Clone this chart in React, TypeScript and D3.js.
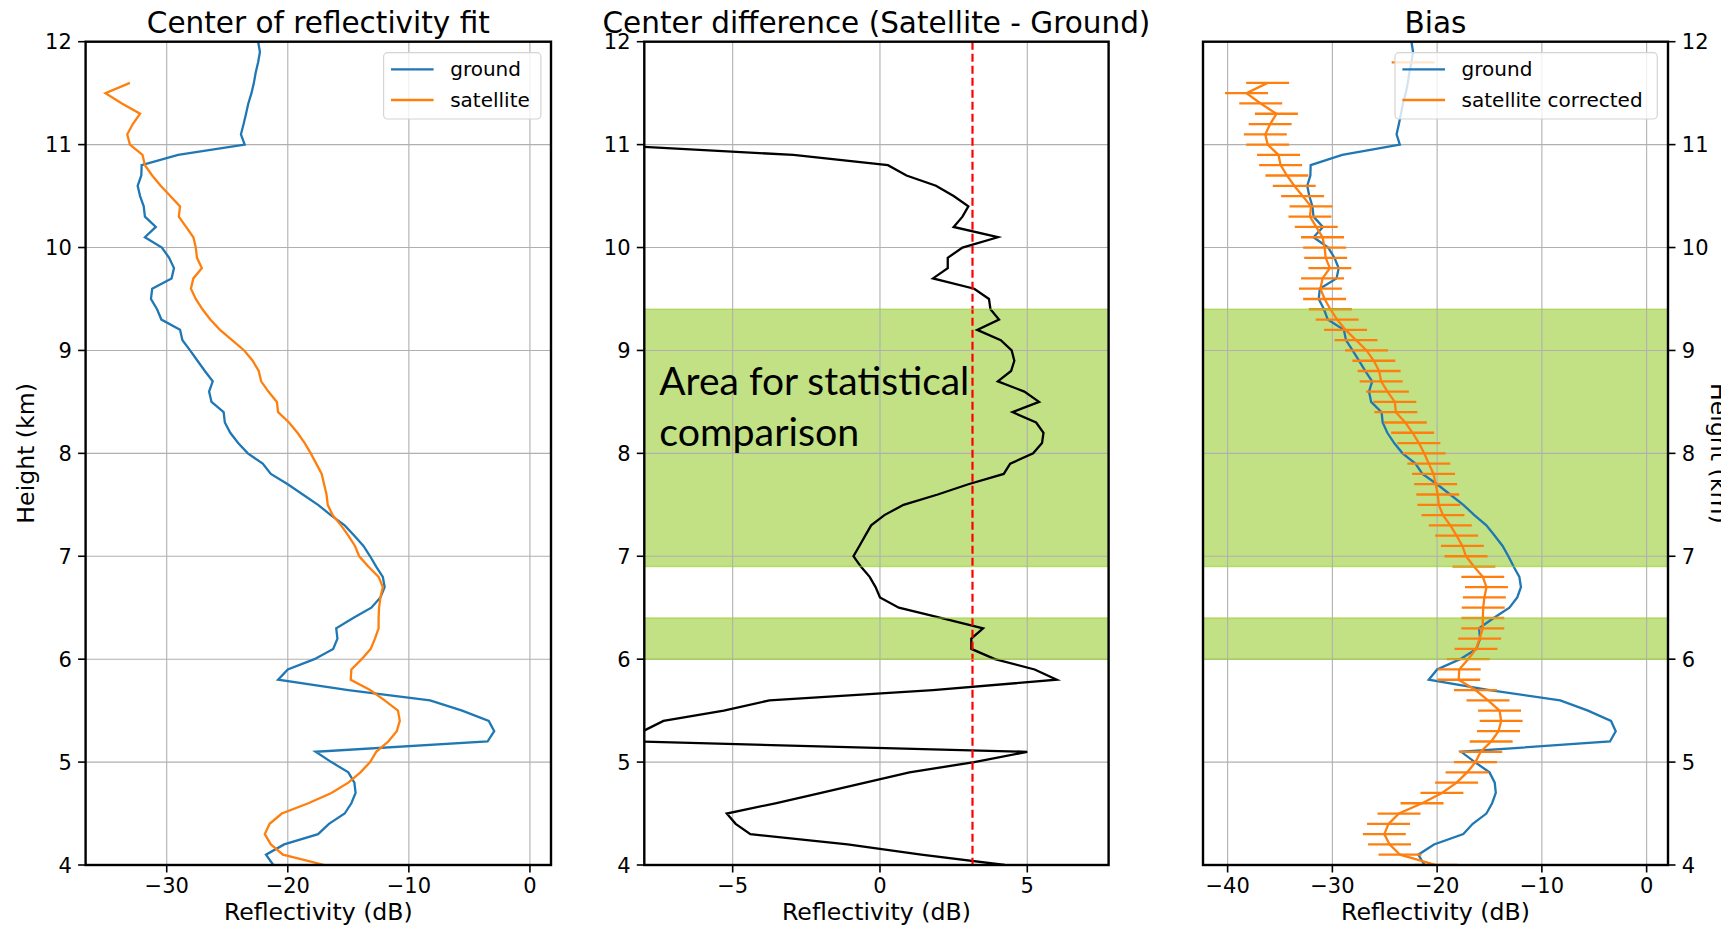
import React, { useRef, useEffect } from 'react';
import * as d3 from 'd3';

// altitude levels (km), bottom to top
const heights = [
  4.0, 4.1, 4.2, 4.3, 4.4, 4.5, 4.6, 4.7, 4.8, 4.9,
  5.0, 5.1, 5.2, 5.3, 5.4, 5.5, 5.6, 5.7, 5.8, 5.9,
  6.0, 6.1, 6.2, 6.3, 6.4, 6.5, 6.6, 6.7, 6.8, 6.9,
  7.0, 7.1, 7.2, 7.3, 7.4, 7.5, 7.6, 7.7, 7.8, 7.9,
  8.0, 8.1, 8.2, 8.3, 8.4, 8.5, 8.6, 8.7, 8.8, 8.9,
  9.0, 9.1, 9.2, 9.3, 9.4, 9.5, 9.6, 9.7, 9.8, 9.9,
  10.0, 10.1, 10.2, 10.3, 10.4, 10.5, 10.6, 10.7, 10.8, 10.9,
  11.0, 11.1, 11.2, 11.3, 11.4, 11.5, 11.6, 11.7, 11.8, 11.9,
  12.0,
];

// center of reflectivity fit, ground radar (dB)
const ground = [
  -21.2, -21.8, -20.3, -17.5, -16.6, -15.3, -14.75, -14.4, -14.5, -15.0,
  -16.4, -17.7, -3.5, -2.95, -3.4, -5.6, -8.25, -15.0, -20.8, -20.0,
  -17.8, -16.25, -15.9, -16.0, -14.6, -13.1, -12.35, -12.0, -12.15, -12.7,
  -13.2, -13.75, -14.5, -15.3, -16.45, -17.5, -18.76, -20.0, -21.4, -22.07,
  -23.3, -24.1, -24.75, -25.2, -25.3, -26.3, -26.5, -26.2, -26.85, -27.46,
  -28.07, -28.7, -28.9, -30.44, -30.8, -31.3, -31.2, -29.6, -29.4, -29.8,
  -30.4, -31.8, -30.9, -31.8, -31.9, -32.2, -32.4, -32.1, -32.07, -29.06,
  -23.56, -23.87, -23.65, -23.45, -23.26, -23.0, -22.8, -22.65, -22.45, -22.3,
  -22.45,
];

// center of reflectivity fit, satellite (dB); null = no fit
const satellite: (number | null)[] = [
  -16.96, -20.4, -21.4, -21.9, -21.5, -20.5, -18.3, -16.4, -15.0, -14.0,
  -13.2, -12.7, -11.7, -11.0, -10.75, -10.9, -12.0, -13.2, -14.8, -14.75,
  -13.9, -13.15, -12.8, -12.5, -12.5, -12.46, -12.35, -12.15, -12.5, -13.35,
  -14.1, -14.45, -15.0, -15.6, -16.3, -16.7, -16.8, -17.0, -17.2, -17.65,
  -18.1, -18.6, -19.2, -19.9, -20.8, -20.9, -21.6, -22.2, -22.4, -22.9,
  -23.6, -24.6, -25.6, -26.4, -27.05, -27.6, -28.0, -27.8, -27.1, -27.5,
  -27.6, -27.8, -28.4, -29.0, -28.9, -29.7, -30.5, -31.2, -31.8, -32.0,
  -33.04, -33.26, -32.8, -32.2, -33.7, -35.06, -33.04, null, -19.15, null,
  null,
];

const meanDifference = 3.14; // red dashed line, dB
const satErrHalfWidth = 2.05; // error bar half width, dB

// height ranges used for statistics (km)
const statBandLow = [6.9, 6.0];
const statBandHigh = [9.4, 6.4];

const heightTicks = [4, 5, 6, 7, 8, 9, 10, 11, 12];
const fitTicks = [-30, -20, -10, 0];
const diffTicks = [-5, 0, 5];
const biasTicks = [-40, -30, -20, -10, 0];

const FONT = '"DejaVu Sans", sans-serif';
const TOP = 41.7;
const BOTTOM = 865;
const BLUE = '#1f77b4';
const ORANGE = '#ff7f0e';
const GREEN = '#9acd32';

type Rec = { h: number; g: number; s: number | null };

const panels = [
  { id: 'fit', left: 85.6, right: 551, xDomain: [-36.7, 1.74], xTicks: fitTicks, title: 'Center of reflectivity fit', side: 'left' },
  { id: 'diff', left: 644.3, right: 1108.6, xDomain: [-8.0, 7.76], xTicks: diffTicks, title: 'Center difference (Satellite - Ground)', side: 'left' },
  { id: 'bias', left: 1203, right: 1668, xDomain: [-42.35, 2.04], xTicks: biasTicks, title: 'Bias', side: 'right' },
];

function App() {
  const chartRef = useRef<SVGSVGElement>(null);

  useEffect(() => {
    drawChart();
  }, []);

  const drawChart = () => {
    const svg = d3.select(chartRef.current);
    svg.selectAll('*').remove();

    const data: Rec[] = heights.map((h, i) => ({ h, g: ground[i], s: satellite[i] }));
    const fmt = d3.format('d');
    const y = d3.scaleLinear().domain([4, 12]).range([BOTTOM, TOP]);

    panels.forEach((p) => {
      const x = d3.scaleLinear().domain(p.xDomain).range([p.left, p.right]);
      const g = svg.append('g');

      g.append('clipPath')
        .attr('id', `clip-${p.id}`)
        .append('rect')
        .attr('x', p.left)
        .attr('y', TOP)
        .attr('width', p.right - p.left)
        .attr('height', BOTTOM - TOP);

      const plot = g.append('g').attr('clip-path', `url(#clip-${p.id})`);
      const hasBands = p.id !== 'fit';

      // green areas
      if (hasBands) {
        statBandLow.forEach((lo, i) => {
          plot
            .append('rect')
            .attr('x', p.left)
            .attr('width', p.right - p.left)
            .attr('y', y(statBandHigh[i]))
            .attr('height', y(lo) - y(statBandHigh[i]))
            .attr('fill', GREEN)
            .attr('fill-opacity', 0.6);
        });
      }

      // grid
      plot
        .selectAll('.gx')
        .data(p.xTicks)
        .enter()
        .append('line')
        .attr('x1', (d) => x(d))
        .attr('x2', (d) => x(d))
        .attr('y1', TOP)
        .attr('y2', BOTTOM)
        .attr('stroke', '#b0b0b0')
        .attr('stroke-width', 1.1);
      plot
        .selectAll('.gy')
        .data(heightTicks)
        .enter()
        .append('line')
        .attr('x1', p.left)
        .attr('x2', p.right)
        .attr('y1', (d) => y(d))
        .attr('y2', (d) => y(d))
        .attr('stroke', '#b0b0b0')
        .attr('stroke-width', 1.1);

      const withSat = (d: Rec) => d.s !== null;

      if (p.id === 'fit') {
        const lineG = d3.line<Rec>().x((d) => x(d.g)).y((d) => y(d.h));
        const lineS = d3.line<Rec>().defined(withSat).x((d) => x(d.s as number)).y((d) => y(d.h));
        plot.append('path').attr('d', lineG(data)).attr('fill', 'none').attr('stroke', BLUE).attr('stroke-width', 2.3);
        plot.append('path').attr('d', lineS(data)).attr('fill', 'none').attr('stroke', ORANGE).attr('stroke-width', 2.3);
      }

      if (p.id === 'diff') {
        const lineD = d3
          .line<Rec>()
          .defined(withSat)
          .x((d) => x((d.s as number) - d.g))
          .y((d) => y(d.h));
        plot.append('path').attr('d', lineD(data)).attr('fill', 'none').attr('stroke', '#000').attr('stroke-width', 2.3);
        plot
          .append('line')
          .attr('x1', x(meanDifference))
          .attr('x2', x(meanDifference))
          .attr('y1', TOP)
          .attr('y2', BOTTOM)
          .attr('stroke', '#ff0000')
          .attr('stroke-width', 2.2)
          .attr('stroke-dasharray', '8,4');
      }

      if (p.id === 'bias') {
        const corr = (d: Rec) => (d.s as number) - meanDifference;
        const lineG = d3.line<Rec>().x((d) => x(d.g)).y((d) => y(d.h));
        const lineC = d3.line<Rec>().defined(withSat).x((d) => x(corr(d))).y((d) => y(d.h));
        plot.append('path').attr('d', lineG(data)).attr('fill', 'none').attr('stroke', BLUE).attr('stroke-width', 2.3);
        plot.append('path').attr('d', lineC(data)).attr('fill', 'none').attr('stroke', ORANGE).attr('stroke-width', 2.3);
        plot
          .selectAll('.err')
          .data(data.filter(withSat))
          .enter()
          .append('line')
          .attr('x1', (d) => x(corr(d) - satErrHalfWidth))
          .attr('x2', (d) => x(corr(d) + satErrHalfWidth))
          .attr('y1', (d) => y(d.h))
          .attr('y2', (d) => y(d.h))
          .attr('stroke', ORANGE)
          .attr('stroke-width', 2.3);
      }

      // band edges
      if (hasBands) {
        statBandLow.forEach((lo, i) => {
          [lo, statBandHigh[i]].forEach((v) => {
            plot
              .append('line')
              .attr('x1', p.left)
              .attr('x2', p.right)
              .attr('y1', y(v))
              .attr('y2', y(v))
              .attr('stroke', GREEN)
              .attr('stroke-opacity', 0.6)
              .attr('stroke-width', 1.6);
          });
        });
      }

      if (p.id === 'diff') {
        const note = g.append('text').attr('font-family', 'Lato, "Open Sans", sans-serif').attr('font-size', 39).attr('fill', '#000');
        note.append('tspan').attr('x', 659.3).attr('y', 395.3).attr('textLength', 310).attr('lengthAdjust', 'spacingAndGlyphs').text('Area for statistical');
        note.append('tspan').attr('x', 659.3).attr('y', 446.3).attr('textLength', 200).attr('lengthAdjust', 'spacingAndGlyphs').text('comparison');
      }

      // frame
      g.append('rect')
        .attr('x', p.left)
        .attr('y', TOP)
        .attr('width', p.right - p.left)
        .attr('height', BOTTOM - TOP)
        .attr('fill', 'none')
        .attr('stroke', '#000')
        .attr('stroke-width', 2.4);

      // x axis
      p.xTicks.forEach((t) => {
        g.append('line').attr('x1', x(t)).attr('x2', x(t)).attr('y1', BOTTOM).attr('y2', BOTTOM + 7.5).attr('stroke', '#000').attr('stroke-width', 1.6);
        g.append('text')
          .attr('x', x(t))
          .attr('y', 893.3)
          .attr('text-anchor', 'middle')
          .attr('font-family', FONT)
          .attr('font-size', 21)
          .text(fmt(t));
      });
      g.append('text')
        .attr('x', (p.left + p.right) / 2)
        .attr('y', 919.5)
        .attr('text-anchor', 'middle')
        .attr('font-family', FONT)
        .attr('font-size', 23.6)
        .text('Reflectivity (dB)');

      // y axis
      const sx = p.side === 'left' ? p.left : p.right;
      const dir = p.side === 'left' ? -1 : 1;
      heightTicks.forEach((t) => {
        g.append('line').attr('x1', sx).attr('x2', sx + dir * 7.5).attr('y1', y(t)).attr('y2', y(t)).attr('stroke', '#000').attr('stroke-width', 1.6);
        g.append('text')
          .attr('x', sx + dir * 13.8)
          .attr('y', y(t) + 7.5)
          .attr('text-anchor', p.side === 'left' ? 'end' : 'start')
          .attr('font-family', FONT)
          .attr('font-size', 21)
          .text(fmt(t));
      });

      // title
      g.append('text')
        .attr('x', (p.left + p.right) / 2)
        .attr('y', 33.3)
        .attr('text-anchor', 'middle')
        .attr('font-family', FONT)
        .attr('font-size', 29.5)
        .text(p.title);
    });

    // y labels
    svg
      .append('text')
      .attr('transform', `translate(34,${(TOP + BOTTOM) / 2}) rotate(-90)`)
      .attr('text-anchor', 'middle')
      .attr('font-family', FONT)
      .attr('font-size', 23.6)
      .text('Height (km)');
    svg
      .append('text')
      .attr('transform', `translate(1711,${(TOP + BOTTOM) / 2}) rotate(90)`)
      .attr('text-anchor', 'middle')
      .attr('font-family', FONT)
      .attr('font-size', 23.6)
      .text('Height (km)');

    // legends
    const legend = (x0: number, x1: number, labels: string[]) => {
      const lg = svg.append('g');
      lg.append('rect')
        .attr('x', x0)
        .attr('y', 52.7)
        .attr('width', x1 - x0)
        .attr('height', 66.3)
        .attr('rx', 4)
        .attr('fill', '#fff')
        .attr('fill-opacity', 0.8)
        .attr('stroke', '#d4d4d4')
        .attr('stroke-width', 1.2);
      [BLUE, ORANGE].forEach((c, i) => {
        const cy = 69.3 + i * 30.7;
        lg.append('line').attr('x1', x0 + 7.4).attr('x2', x0 + 50).attr('y1', cy).attr('y2', cy).attr('stroke', c).attr('stroke-width', 2.3);
        lg.append('text')
          .attr('x', x0 + 66.6)
          .attr('y', cy + 7)
          .attr('font-family', FONT)
          .attr('font-size', 20)
          .text(labels[i]);
      });
    };
    legend(383.6, 540.9, ['ground', 'satellite']);
    legend(1395, 1657.3, ['ground', 'satellite corrected']);
  };

  return (
    <div style={{ position: 'fixed', left: 0, top: 0, width: 1721, height: 926, background: '#fff' }}>
      <svg ref={chartRef} width={1721} height={926} style={{ display: 'block' }} />
    </div>
  );
}

export default App;
